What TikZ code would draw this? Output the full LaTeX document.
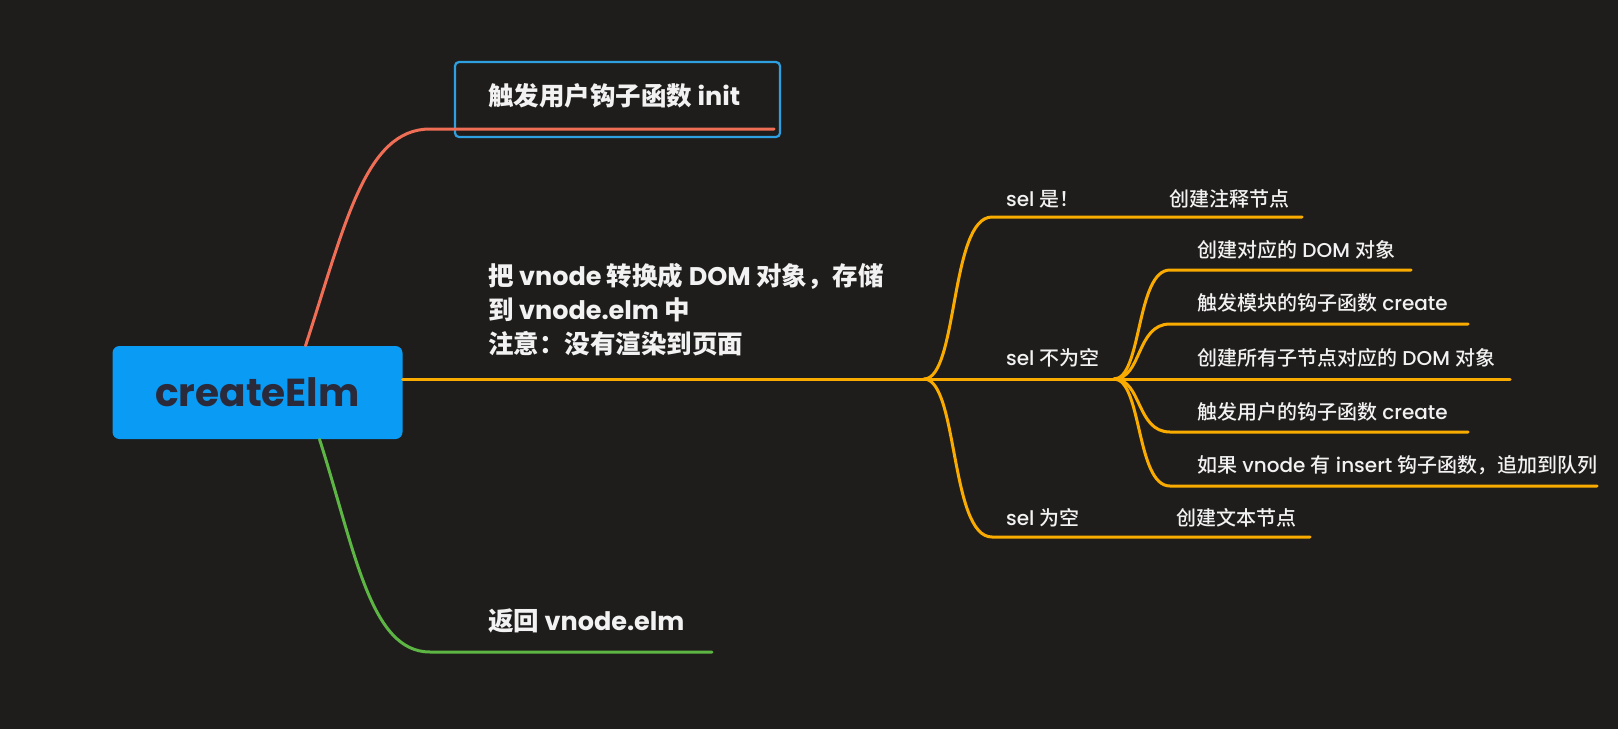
\documentclass[tikz,border=0pt]{standalone}
\usepackage{fontspec}
\setmainfont{Poppins}
\newfontfamily\cjk{Noto Sans CJK SC}
\newfontfamily\cjkm{Noto Sans CJK SC Medium}
\newfontfamily\popm{Poppins Medium}
\newcommand{\zhs}[1]{{\cjk #1}}
\newcommand{\zhm}[1]{{\cjkm #1}}
\definecolor{bgc}{HTML}{1F1D1B}
\definecolor{redc}{HTML}{F06E55}
\definecolor{orac}{HTML}{FAAB00}
\definecolor{grnc}{HTML}{5DB544}
\definecolor{boxc}{HTML}{0A9BF5}
\definecolor{hlc}{HTML}{2E9FE0}
\definecolor{rootc}{HTML}{2A2A3A}
\definecolor{txtc}{HTML}{F2F2F2}
\begin{document}
\begin{tikzpicture}[x=1pt,y=-1pt,
  rootbox/.style={fill=boxc, rounded corners=7pt, minimum width=290pt, minimum height=93pt, inner sep=0pt, text=rootc, font=\fontsize{39}{46}\selectfont\bfseries},
  bigtxt/.style={anchor=west, text=txtc, inner sep=0pt, align=left, font=\fontsize{25.5}{34}\selectfont\bfseries},
  smalltxt/.style={anchor=west, text=txtc, inner sep=0pt, font=\fontsize{20}{24}\selectfont\popm},
  branch/.style={line width=3pt, line cap=round},
  hlbox/.style={draw=hlc, line width=2.2pt, rounded corners=4pt}
]
\fill[bgc] (0,0) rectangle (1618,729);
\useasboundingbox (0,0) rectangle (1618,729);

% root
\node[rootbox] (root) at (257.5,392.5) {createElm};

% level-1 labels
\node[bigtxt] (init) at (488,96) {\zhs{触发用户钩子函数} init};
\node[bigtxt] (conv) at (488,310) {\zhs{把} vnode \zhs{转换成} DOM \zhs{对象，存储}\\\zhs{到} vnode.elm \zhs{中}\\\zhs{注意：没有渲染到页面}};
\node[bigtxt] (ret) at (488,621) {\zhs{返回} vnode.elm};

% highlight box around init
\draw[hlbox] (455,62) rectangle (780,137);

% endpoints
\coordinate (initend) at (774,129);
\coordinate (retend) at (712,652);
\coordinate (split1) at (924,379);
\coordinate (split2) at (1114,379);

% level-1 connectors
\draw[branch, redc] ([xshift=48pt]root.north) .. controls (345,225) and (365,129) .. (430,129) -- (initend);
\draw[branch, grnc] ([xshift=62pt]root.south) .. controls (355,550) and (370,652) .. (430,652) -- (retend);
\draw[branch, orac] (root.east |- split1) -- (split1);

% level-2 labels
\node[smalltxt] (selc) at (1006,199) {sel \zhm{是！}};
\node[smalltxt] (cmt) at (1169,199) {\zhm{创建注释节点}};
\node[smalltxt] (seln) at (1006,358) {sel \zhm{不为空}};
\node[smalltxt] (sele) at (1006,518) {sel \zhm{为空}};
\node[smalltxt] (txtn) at (1176,518) {\zhm{创建文本节点}};

\coordinate (cmtend) at (1302,217);
\coordinate (txtend) at (1310,537);

\draw[branch, orac] (split1) .. controls (958,379) and (950,217) .. (992,217) -- (cmtend);
\draw[branch, orac] (split1) -- (split2);
\draw[branch, orac] (split1) .. controls (958,379) and (950,537) .. (992,537) -- (txtend);

% level-3 labels
\node[smalltxt] (s1) at (1197,250) {\zhm{创建对应的} DOM \zhm{对象}};
\node[smalltxt] (s2) at (1197,303) {\zhm{触发模块的钩子函数} create};
\node[smalltxt] (s3) at (1197,358) {\zhm{创建所有子节点对应的} DOM \zhm{对象}};
\node[smalltxt] (s4) at (1197,412) {\zhm{触发用户的钩子函数} create};
\node[smalltxt] (s5) at (1197,465) {\zhm{如果} vnode \zhm{有} insert \zhm{钩子函数，追加到队列}};

\coordinate (e1) at (1411,270);
\coordinate (e2) at (1468,324);
\coordinate (e3) at (1510,379);
\coordinate (e4) at (1468,432);
\coordinate (e5) at (1597,486);

\foreach \e in {e1,e2,e4,e5}{
  \draw[branch, orac] (split2) .. controls (1142,379) and (1136,0|-\e) .. (1170,0|-\e) -- (\e);
}
\draw[branch, orac] (split2) -- (e3);
\end{tikzpicture}
\end{document}
